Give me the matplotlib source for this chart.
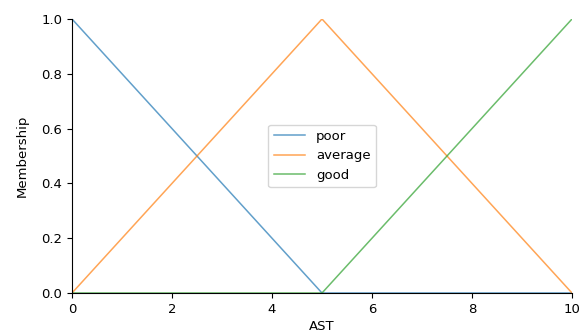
import matplotlib
matplotlib.use("Agg")
import matplotlib.pyplot as plt

ast = [0, 5, 10]
poor = [1.0, 0.0, 0.0]
average = [0.0, 1.0, 0.0]
good = [0.0, 0.0, 1.0]
labels = ["poor", "average", "good"]
colors = ["#1f77b4", "#ff7f0e", "#2ca02c"]

plt.rcParams["font.size"] = 9.5
fig = plt.figure(figsize=(5.87, 3.32), dpi=100)
ax = fig.add_axes([72/587, 1-293/332, 500/587, 274/332])
for y, lab, c in zip([poor, average, good], labels, colors):
    ax.plot(ast, y, color=c, linewidth=1.1, alpha=0.7, label=lab)
ax.set_xlim(0, 10)
ax.set_ylim(0, 1.0)
ax.set_xlabel("AST", labelpad=3)
ax.set_ylabel("Membership", labelpad=9)
ax.spines["top"].set_visible(False)
ax.spines["right"].set_visible(False)
ax.legend(loc="center", handlelength=2.4)
fig.savefig("out.png", dpi=100)
